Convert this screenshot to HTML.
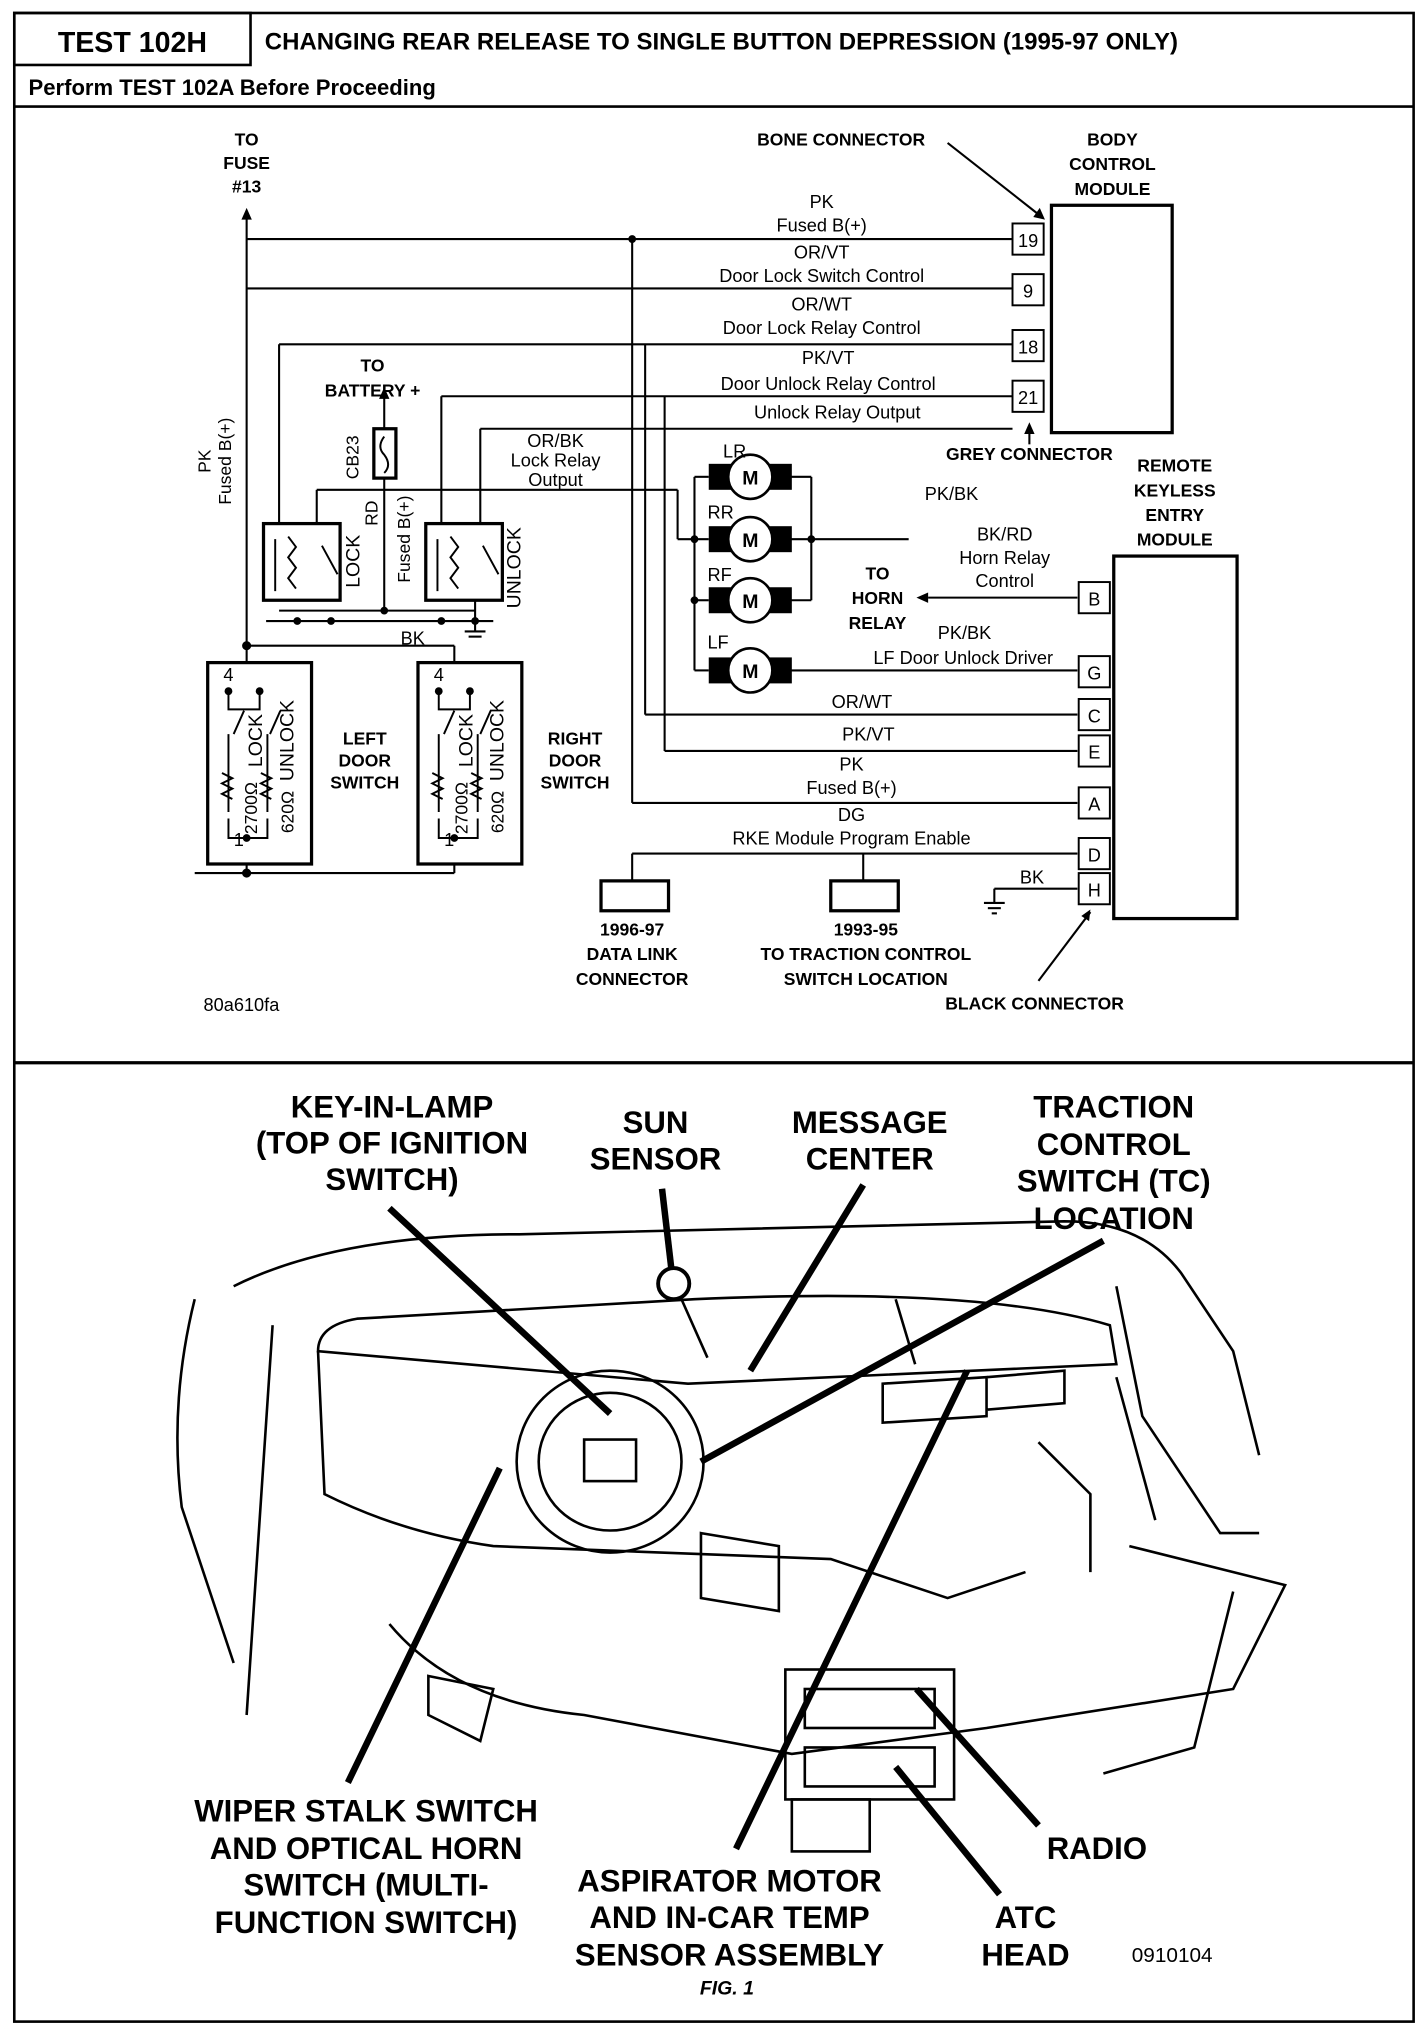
<!DOCTYPE html>
<html><head><meta charset="utf-8"><style>
html,body{margin:0;padding:0;background:#fff}
svg{display:block}
text{font-family:"Liberation Sans",Arial,sans-serif;fill:#000}
.b{font-weight:bold}
</style></head><body>
<svg width="1424" height="2032" viewBox="0 0 1097 1564" preserveAspectRatio="none" xmlns="http://www.w3.org/2000/svg">
<g fill="none" stroke="#000" stroke-width="2">
<rect x="11" y="10" width="1078" height="1546"/>
<rect x="11" y="10" width="182" height="40"/>
<line x1="11" y1="82" x2="1089" y2="82"/>
<line x1="11" y1="818" x2="1089" y2="818" stroke-width="2.5"/>
</g>
<text x="102" y="40" font-size="22" class="b" text-anchor="middle">TEST 102H</text>
<text x="204" y="38" font-size="18.5" class="b">CHANGING REAR RELEASE TO SINGLE BUTTON DEPRESSION (1995-97 ONLY)</text>
<text x="22" y="73" font-size="17" class="b">Perform TEST 102A Before Proceeding</text>

<!-- wiring -->
<g fill="none" stroke="#000" stroke-width="1.6">
<line x1="190" y1="168" x2="190" y2="510"/>
<line x1="190" y1="184" x2="780" y2="184"/>
<line x1="190" y1="222" x2="780" y2="222"/>
<line x1="487" y1="184" x2="487" y2="618"/>
<line x1="487" y1="618" x2="830" y2="618"/>
<line x1="215" y1="265" x2="780" y2="265"/>
<line x1="215" y1="265" x2="215" y2="403"/>
<line x1="497" y1="265" x2="497" y2="550"/>
<line x1="497" y1="550" x2="830" y2="550"/>
<line x1="340" y1="305" x2="780" y2="305"/>
<line x1="340" y1="305" x2="340" y2="403"/>
<line x1="512" y1="305" x2="512" y2="578"/>
<line x1="512" y1="578" x2="830" y2="578"/>
<line x1="370" y1="330" x2="780" y2="330"/>
<line x1="370" y1="330" x2="370" y2="403"/>
<line x1="296" y1="305" x2="296" y2="330"/>
<line x1="296" y1="368" x2="296" y2="470"/>
<line x1="244" y1="377" x2="244" y2="403"/>
<line x1="244" y1="377" x2="522" y2="377"/>
<line x1="522" y1="377" x2="522" y2="415"/>
<line x1="522" y1="415" x2="546" y2="415"/>
<line x1="535" y1="367" x2="535" y2="516"/>
<line x1="535" y1="367" x2="546" y2="367"/>
<line x1="535" y1="462" x2="546" y2="462"/>
<line x1="535" y1="516" x2="546" y2="516"/>
<line x1="609" y1="367" x2="625" y2="367"/>
<line x1="609" y1="415" x2="700" y2="415"/>
<line x1="609" y1="462" x2="625" y2="462"/>
<line x1="625" y1="367" x2="625" y2="462"/>
<line x1="609" y1="516" x2="830" y2="516"/>
<line x1="715" y1="460" x2="830" y2="460"/>
<line x1="487" y1="657" x2="830" y2="657"/>
<line x1="487" y1="657" x2="487" y2="678"/>
<line x1="665" y1="657" x2="665" y2="678"/>
<line x1="766" y1="684" x2="830" y2="684"/>
<line x1="766" y1="684" x2="766" y2="695"/>
<line x1="758" y1="695" x2="774" y2="695"/><line x1="761" y1="699" x2="771" y2="699"/><line x1="764" y1="703" x2="768" y2="703"/>
<line x1="215" y1="470" x2="366" y2="470"/>
<line x1="205" y1="478" x2="380" y2="478"/>
<line x1="366" y1="462" x2="366" y2="486"/>
<line x1="358" y1="486" x2="374" y2="486"/><line x1="361" y1="490" x2="371" y2="490"/>
<line x1="190" y1="497" x2="350" y2="497"/>
<line x1="350" y1="497" x2="350" y2="510"/>
<line x1="150" y1="672" x2="350" y2="672"/>
<line x1="190" y1="665" x2="190" y2="672"/>
<line x1="350" y1="665" x2="350" y2="672"/>
<line x1="800" y1="165" x2="730" y2="110"/>
<line x1="793" y1="333" x2="793" y2="342"/>
<line x1="840" y1="702" x2="800" y2="755"/>
</g>
<g fill="none" stroke="#000" stroke-width="2.5">
<rect x="203" y="403" width="59" height="59"/>
<rect x="328" y="403" width="59" height="59"/>
<rect x="288" y="330" width="17" height="38"/>
<rect x="160" y="510" width="80" height="155"/>
<rect x="322" y="510" width="80" height="155"/>
<rect x="810" y="158" width="93" height="175"/>
<rect x="858" y="428" width="95" height="279"/>
<rect x="463" y="678" width="52" height="23"/>
<rect x="640" y="678" width="52" height="23"/>
</g>
<g fill="none" stroke="#000" stroke-width="1.5">
<rect x="780" y="172" width="24" height="24"/><rect x="780" y="211" width="24" height="24"/>
<rect x="780" y="254" width="24" height="24"/><rect x="780" y="293" width="24" height="24"/>
<rect x="831" y="448" width="24" height="24"/><rect x="831" y="505" width="24" height="24"/>
<rect x="831" y="538" width="24" height="24"/><rect x="831" y="566" width="24" height="24"/>
<rect x="831" y="606" width="24" height="24"/><rect x="831" y="645" width="24" height="24"/>
<rect x="831" y="672" width="24" height="24"/>
<path d="M212 415 v40 M222 413 l6 8 -6 8 6 8 -6 8 6 8 M248 420 l12 22 M337 415 v40 M347 413 l6 8 -6 8 6 8 -6 8 6 8 M372 420 l12 22"/>
<path d="M296 336 q-6 8 0 14 q6 8 0 14"/>
<path d="M176 532 v14 h24 v-14 M180 565 l8 -18 M208 565 l8 -18 M176 565 v60 M206 565 v60 M171 595 l8 4 -8 4 8 4 -8 4 8 4 M201 595 l8 4 -8 4 8 4 -8 4 8 4 M176 630 v15 h30 v-15"/>
<path d="M338 532 v14 h24 v-14 M342 565 l8 -18 M370 565 l8 -18 M338 565 v60 M368 565 v60 M333 595 l8 4 -8 4 8 4 -8 4 8 4 M363 595 l8 4 -8 4 8 4 -8 4 8 4 M338 630 v15 h30 v-15"/>
</g>
<g fill="#000">
<circle cx="487" cy="184" r="3"/><circle cx="190" cy="497" r="3.5"/><circle cx="190" cy="672" r="3.5"/>
<circle cx="535" cy="415" r="3"/><circle cx="535" cy="462" r="3"/><circle cx="625" cy="415" r="3"/>
<circle cx="296" cy="470" r="3"/><circle cx="229" cy="478" r="3"/><circle cx="255" cy="478" r="3"/><circle cx="340" cy="478" r="3"/><circle cx="366" cy="478" r="3"/>
<circle cx="176" cy="532" r="3"/><circle cx="200" cy="532" r="3"/><circle cx="338" cy="532" r="3"/><circle cx="362" cy="532" r="3"/>
<circle cx="190" cy="645" r="3"/><circle cx="350" cy="645" r="3"/>
<path d="M190 160 l-4 9 h8z M296 298 l-4 9 h8z M706 460 l9 -4 v8z M805 169 l-9 -2 5 -7z M793 325 l-4 9 h8z M840 700 l-1 9 -6 -4z"/>
</g>
<g>
<g transform="translate(578,367)"><rect x="-32" y="-10" width="64" height="20" fill="#000"/><circle r="17" fill="#fff" stroke="#000" stroke-width="2"/><text y="6" font-size="15" class="b" text-anchor="middle">M</text></g>
<g transform="translate(578,415)"><rect x="-32" y="-10" width="64" height="20" fill="#000"/><circle r="17" fill="#fff" stroke="#000" stroke-width="2"/><text y="6" font-size="15" class="b" text-anchor="middle">M</text></g>
<g transform="translate(578,462)"><rect x="-32" y="-10" width="64" height="20" fill="#000"/><circle r="17" fill="#fff" stroke="#000" stroke-width="2"/><text y="6" font-size="15" class="b" text-anchor="middle">M</text></g>
<g transform="translate(578,516)"><rect x="-32" y="-10" width="64" height="20" fill="#000"/><circle r="17" fill="#fff" stroke="#000" stroke-width="2"/><text y="6" font-size="15" class="b" text-anchor="middle">M</text></g>
</g>
<g font-size="14" text-anchor="middle">
<text x="792" y="190">19</text><text x="792" y="229">9</text><text x="792" y="272">18</text><text x="792" y="311">21</text>
<text x="843" y="466">B</text><text x="843" y="523">G</text><text x="843" y="556">C</text><text x="843" y="584">E</text><text x="843" y="624">A</text><text x="843" y="663">D</text><text x="843" y="690">H</text>
<text x="633" y="160">PK</text><text x="633" y="178">Fused B(+)</text>
<text x="633" y="199">OR/VT</text><text x="633" y="217">Door Lock Switch Control</text>
<text x="633" y="239">OR/WT</text><text x="633" y="257">Door Lock Relay Control</text>
<text x="638" y="280">PK/VT</text><text x="638" y="300">Door Unlock Relay Control</text>
<text x="645" y="322">Unlock Relay Output</text>
<text x="428" y="344">OR/BK</text><text x="428" y="359">Lock Relay</text><text x="428" y="374">Output</text>
<text x="733" y="385">PK/BK</text>
<text x="774" y="416">BK/RD</text><text x="774" y="434">Horn Relay</text><text x="774" y="452">Control</text>
<text x="743" y="492">PK/BK</text>
<text x="742" y="511">LF Door Unlock Driver</text>
<text x="664" y="545">OR/WT</text><text x="669" y="570">PK/VT</text>
<text x="656" y="593">PK</text><text x="656" y="611">Fused B(+)</text>
<text x="656" y="632">DG</text><text x="656" y="650">RKE Module Program Enable</text>
<text x="795" y="680">BK</text><text x="318" y="496">BK</text>
<text x="557" y="352" text-anchor="start">LR</text><text x="545" y="399" text-anchor="start">RR</text>
<text x="545" y="447" text-anchor="start">RF</text><text x="545" y="499" text-anchor="start">LF</text>
<text x="184" y="651">1</text><text x="346" y="651">1</text><text x="176" y="524">4</text><text x="338" y="524">4</text>
<text x="186" y="778">80a610fa</text>
</g>
<g font-size="13.5" text-anchor="middle">
<text transform="translate(162,355) rotate(-90)">PK</text><text transform="translate(178,355) rotate(-90)">Fused B(+)</text>
<text transform="translate(276,352) rotate(-90)">CB23</text>
<text transform="translate(291,395) rotate(-90)">RD</text>
<text transform="translate(316,415) rotate(-90)">Fused B(+)</text>
<text transform="translate(277,432) rotate(-90)" font-size="15">LOCK</text>
<text transform="translate(401,437) rotate(-90)" font-size="15">UNLOCK</text>
<text transform="translate(226,570) rotate(-90)" font-size="15">UNLOCK</text>
<text transform="translate(388,570) rotate(-90)" font-size="15">UNLOCK</text>
<text transform="translate(202,570) rotate(-90)" font-size="15">LOCK</text>
<text transform="translate(364,570) rotate(-90)" font-size="15">LOCK</text>
<text transform="translate(198,622) rotate(-90)">2700Ω</text><text transform="translate(360,622) rotate(-90)">2700Ω</text>
<text transform="translate(226,625) rotate(-90)">620Ω</text><text transform="translate(388,625) rotate(-90)">620Ω</text>
</g>
<g font-size="13.5" class="b" text-anchor="middle">
<text x="190" y="112">TO</text><text x="190" y="130">FUSE</text><text x="190" y="148">#13</text>
<text x="648" y="112">BONE CONNECTOR</text>
<text x="857" y="112">BODY</text><text x="857" y="131">CONTROL</text><text x="857" y="150">MODULE</text>
<text x="287" y="286">TO</text><text x="287" y="305">BATTERY +</text>
<text x="793" y="354">GREY CONNECTOR</text>
<text x="905" y="363">REMOTE</text><text x="905" y="382">KEYLESS</text><text x="905" y="401">ENTRY</text><text x="905" y="420">MODULE</text>
<text x="676" y="446">TO</text><text x="676" y="465">HORN</text><text x="676" y="484">RELAY</text>
<text x="281" y="573">LEFT</text><text x="281" y="590">DOOR</text><text x="281" y="607">SWITCH</text>
<text x="443" y="573">RIGHT</text><text x="443" y="590">DOOR</text><text x="443" y="607">SWITCH</text>
<text x="487" y="720">1996-97</text><text x="487" y="739">DATA LINK</text><text x="487" y="758">CONNECTOR</text>
<text x="667" y="720">1993-95</text><text x="667" y="739">TO TRACTION CONTROL</text><text x="667" y="758">SWITCH LOCATION</text>
<text x="797" y="777">BLACK CONNECTOR</text>
</g>

<!-- dashboard drawing -->
<g fill="none" stroke="#000" stroke-width="2">
<path d="M180 990 q80 -40 220 -40 l420 -10 q60 0 90 40 l40 60 l20 80"/>
<path d="M245 1040 q0 -20 30 -25 l260 -15 q220 -10 320 20 l5 30 l-330 15 z"/>
<path d="M245 1040 l5 110 q60 30 130 40 l260 10 l90 30 l60 -20"/>
<path d="M525 1000 l20 45 M690 1000 l15 50"/>
<ellipse cx="470" cy="1125" rx="72" ry="70"/>
<ellipse cx="470" cy="1125" rx="55" ry="53"/>
<rect x="450" y="1108" width="40" height="32"/>
<path d="M300 1250 q50 60 150 70 l160 30 l150 -20 l190 -30 l40 -80 l-120 -30"/>
<path d="M950 1225 l-30 120 l-70 20"/>
<rect x="605" y="1285" width="130" height="100"/>
<rect x="620" y="1300" width="100" height="30"/>
<rect x="620" y="1345" width="100" height="30"/>
<rect x="610" y="1385" width="60" height="40"/>
<path d="M680 1065 l80 -5 l0 30 l-80 5z M760 1060 l60 -5 l0 25 l-60 5z"/>
<path d="M150 1000 q-20 80 -10 160 l40 120 M210 1020 l-20 300"/>
<path d="M860 990 l20 100 l60 90 l30 0 M860 1060 l30 110"/>
<path d="M330 1290 l50 10 l-10 40 l-40 -20z"/>
<path d="M540 1180 l60 10 l0 50 l-60 -10z M800 1110 l40 40 l0 60"/>
</g>
<circle cx="519" cy="988" r="12" fill="none" stroke="#000" stroke-width="3"/>
<g stroke="#000" stroke-width="5" fill="none">
<line x1="300" y1="930" x2="470" y2="1088"/>
<line x1="510" y1="915" x2="517" y2="975"/>
<line x1="665" y1="912" x2="578" y2="1055"/>
<line x1="850" y1="955" x2="540" y2="1125"/>
<line x1="385" y1="1130" x2="268" y2="1372"/>
<line x1="745" y1="1055" x2="567" y2="1423"/>
<line x1="706" y1="1300" x2="800" y2="1405"/>
<line x1="690" y1="1360" x2="770" y2="1458"/>
</g>
<g font-size="24" class="b" text-anchor="middle">
<text x="302" y="860">KEY-IN-LAMP</text><text x="302" y="888">(TOP OF IGNITION</text><text x="302" y="916">SWITCH)</text>
<text x="505" y="872">SUN</text><text x="505" y="900">SENSOR</text>
<text x="670" y="872">MESSAGE</text><text x="670" y="900">CENTER</text>
<text x="858" y="860">TRACTION</text><text x="858" y="889">CONTROL</text><text x="858" y="917">SWITCH (TC)</text><text x="858" y="946">LOCATION</text>
<text x="282" y="1402">WIPER STALK SWITCH</text><text x="282" y="1431">AND OPTICAL HORN</text><text x="282" y="1459">SWITCH (MULTI-</text><text x="282" y="1488">FUNCTION SWITCH)</text>
<text x="562" y="1456">ASPIRATOR MOTOR</text><text x="562" y="1484">AND IN-CAR TEMP</text><text x="562" y="1513">SENSOR ASSEMBLY</text>
<text x="845" y="1431">RADIO</text>
<text x="790" y="1484">ATC</text><text x="790" y="1513">HEAD</text>
</g>
<text x="903" y="1510" font-size="16" text-anchor="middle">0910104</text>
<text x="560" y="1535" font-size="15" class="b" font-style="italic" text-anchor="middle">FIG. 1</text>
</svg>
</body></html>
